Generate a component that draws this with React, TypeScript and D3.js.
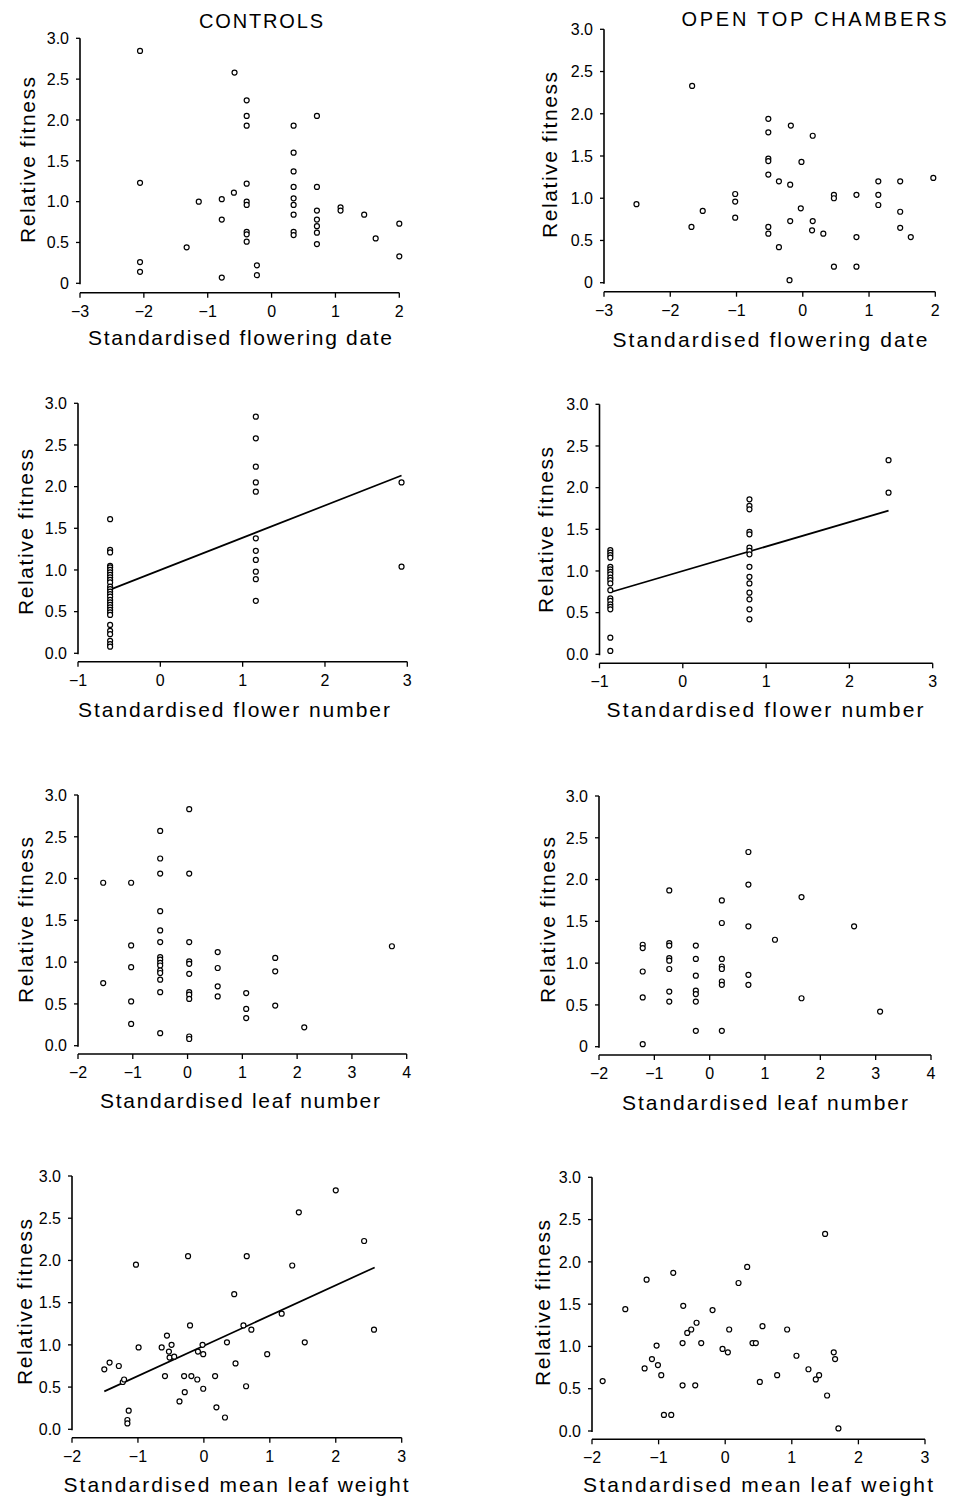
import * as d3 from "d3";
import React from "react";

type Pt = [number, number];

// ---- data (x = standardised trait, y = relative fitness) ----
const ctlFloweringDate: Pt[] = [
  [-2.06, 2.845], [-2.06, 1.23], [-2.06, 0.26], [-2.06, 0.14], [-1.33, 0.44], [-1.14, 1.0],
  [-0.78, 1.03], [-0.78, 0.78], [-0.78, 0.07], [-0.59, 1.11], [-0.58, 2.58],
  [-0.39, 2.24], [-0.39, 2.05], [-0.39, 1.93], [-0.39, 1.22], [-0.39, 1.0], [-0.39, 0.96],
  [-0.39, 0.63], [-0.39, 0.6], [-0.39, 0.51], [-0.23, 0.22], [-0.23, 0.1],
  [0.345, 1.93], [0.345, 1.6], [0.345, 1.37], [0.345, 1.18], [0.345, 1.04], [0.345, 0.96],
  [0.345, 0.84], [0.345, 0.63], [0.345, 0.59], [0.71, 2.05], [0.71, 1.18], [0.71, 0.89],
  [0.71, 0.78], [0.71, 0.7], [0.71, 0.62], [0.71, 0.48], [1.08, 0.93], [1.08, 0.89],
  [1.45, 0.84], [1.63, 0.55], [2.0, 0.73], [2.0, 0.33],
];

const otcFloweringDate: Pt[] = [
  [-2.51, 0.93], [-1.67, 2.33], [-1.68, 0.66], [-1.51, 0.85], [-1.02, 1.05], [-1.02, 0.96],
  [-1.02, 0.77], [-0.52, 1.94], [-0.52, 1.78], [-0.52, 1.47], [-0.52, 1.44], [-0.52, 1.28],
  [-0.52, 0.66], [-0.52, 0.58], [-0.36, 1.2], [-0.36, 0.42], [-0.18, 1.86], [-0.19, 1.16],
  [-0.19, 0.73], [-0.2, 0.03], [-0.02, 1.43], [-0.03, 0.88], [0.15, 1.74], [0.15, 0.73],
  [0.14, 0.62], [0.31, 0.58], [0.47, 1.04], [0.47, 1.0], [0.47, 0.19], [0.81, 1.04],
  [0.81, 0.54], [0.81, 0.19], [1.14, 1.2], [1.14, 1.04], [1.14, 0.92], [1.47, 1.2],
  [1.47, 0.84], [1.47, 0.65], [1.63, 0.54], [1.97, 1.24],
];

const ctlFlowerNumber: Pt[] = [
  [-0.61, 1.61], [-0.61, 1.24], [-0.61, 1.21], [-0.61, 1.05], [-0.61, 1.03], [-0.61, 1.0],
  [-0.61, 0.97], [-0.61, 0.94], [-0.61, 0.91], [-0.61, 0.88], [-0.61, 0.85], [-0.61, 0.8],
  [-0.61, 0.77], [-0.61, 0.74], [-0.61, 0.71], [-0.61, 0.68], [-0.61, 0.64], [-0.61, 0.61],
  [-0.61, 0.58], [-0.61, 0.55], [-0.61, 0.52], [-0.61, 0.49], [-0.61, 0.46], [-0.61, 0.34],
  [-0.61, 0.27], [-0.61, 0.23], [-0.61, 0.15], [-0.61, 0.11], [-0.61, 0.08],
  [1.16, 2.84], [1.16, 2.58], [1.16, 2.24], [1.16, 2.05], [1.16, 1.94], [1.16, 1.38],
  [1.16, 1.23], [1.16, 1.12], [1.16, 0.98], [1.16, 0.89], [1.16, 0.63],
  [2.93, 2.05], [2.93, 1.04],
];

const otcFlowerNumber: Pt[] = [
  [-0.87, 1.25], [-0.87, 1.22], [-0.87, 1.19], [-0.87, 1.16], [-0.87, 1.05], [-0.87, 1.02],
  [-0.87, 0.99], [-0.87, 0.96], [-0.87, 0.92], [-0.87, 0.89], [-0.87, 0.85], [-0.87, 0.77],
  [-0.87, 0.67], [-0.87, 0.64], [-0.87, 0.6], [-0.87, 0.57], [-0.87, 0.54], [-0.87, 0.2],
  [-0.87, 0.04],
  [0.8, 1.86], [0.8, 1.78], [0.8, 1.74], [0.8, 1.47], [0.8, 1.44], [0.8, 1.28], [0.8, 1.24],
  [0.8, 1.2], [0.8, 1.05], [0.8, 0.93], [0.8, 0.85], [0.8, 0.74], [0.8, 0.66], [0.8, 0.54],
  [0.8, 0.42],
  [2.47, 2.33], [2.47, 1.94],
];

const ctlLeafNumber: Pt[] = [
  [-1.54, 1.95], [-1.54, 0.75], [-1.03, 1.95], [-1.03, 1.2], [-1.03, 0.94], [-1.03, 0.53],
  [-1.03, 0.26], [-0.5, 2.57], [-0.5, 2.24], [-0.5, 2.06], [-0.5, 1.61], [-0.5, 1.38],
  [-0.5, 1.24], [-0.5, 1.06], [-0.5, 1.03], [-0.5, 0.99], [-0.5, 0.96], [-0.5, 0.9],
  [-0.5, 0.87], [-0.5, 0.79], [-0.5, 0.64], [-0.5, 0.15], [0.03, 2.83], [0.03, 2.06],
  [0.03, 1.24], [0.03, 1.01], [0.03, 0.98], [0.03, 0.86], [0.03, 0.64], [0.03, 0.61],
  [0.03, 0.56], [0.03, 0.11], [0.03, 0.08], [0.55, 1.12], [0.55, 0.93], [0.55, 0.71],
  [0.55, 0.59], [1.07, 0.63], [1.07, 0.44], [1.07, 0.33], [1.6, 1.05], [1.6, 0.89],
  [1.6, 0.48], [2.13, 0.22], [3.73, 1.19],
];

const otcLeafNumber: Pt[] = [
  [-1.21, 1.22], [-1.21, 1.18], [-1.21, 0.9], [-1.21, 0.59], [-1.21, 0.03],
  [-0.73, 1.87], [-0.73, 1.24], [-0.73, 1.21], [-0.73, 1.06], [-0.73, 1.03], [-0.73, 0.93],
  [-0.73, 0.66], [-0.73, 0.54], [-0.25, 1.21], [-0.25, 1.05], [-0.25, 0.85], [-0.25, 0.67],
  [-0.25, 0.63], [-0.25, 0.54], [-0.25, 0.19], [0.22, 1.75], [0.22, 1.48], [0.22, 1.05],
  [0.22, 0.96], [0.22, 0.93], [0.22, 0.78], [0.22, 0.74], [0.22, 0.19], [0.7, 2.33],
  [0.7, 1.94], [0.7, 1.44], [0.7, 0.86], [0.7, 0.74], [1.18, 1.28], [1.66, 1.79],
  [1.66, 0.58], [2.61, 1.44], [3.08, 0.42],
];

const ctlLeafWeight: Pt[] = [
  [-1.51, 0.71], [-1.43, 0.79], [-1.29, 0.75], [-1.23, 0.56], [-1.21, 0.59], [-1.14, 0.22],
  [-1.16, 0.11], [-1.16, 0.07], [-1.03, 1.95], [-0.99, 0.97], [-0.64, 0.97], [-0.59, 0.63],
  [-0.56, 1.11], [-0.53, 0.92], [-0.52, 0.85], [-0.49, 1.0], [-0.45, 0.86], [-0.37, 0.33],
  [-0.3, 0.63], [-0.29, 0.44], [-0.24, 2.05], [-0.21, 1.23], [-0.19, 0.63], [-0.1, 0.59],
  [-0.09, 0.92], [-0.02, 1.0], [-0.01, 0.89], [-0.01, 0.48], [0.17, 0.63], [0.19, 0.26],
  [0.32, 0.14], [0.35, 1.03], [0.46, 1.6], [0.48, 0.78], [0.6, 1.23], [0.64, 0.51],
  [0.65, 2.05], [0.72, 1.18], [0.96, 0.89], [1.18, 1.37], [1.34, 1.94], [1.44, 2.57],
  [1.53, 1.03], [2.0, 2.83], [2.43, 2.23], [2.58, 1.18],
];

const otcLeafWeight: Pt[] = [
  [-1.84, 0.59], [-1.5, 1.44], [-1.21, 0.74], [-1.18, 1.79], [-1.1, 0.85], [-1.03, 1.01],
  [-1.01, 0.78], [-0.96, 0.66], [-0.92, 0.19], [-0.81, 0.19], [-0.78, 1.87], [-0.64, 0.54],
  [-0.64, 1.04], [-0.63, 1.48], [-0.57, 1.16], [-0.51, 1.2], [-0.45, 0.54], [-0.43, 1.28],
  [-0.36, 1.04], [-0.19, 1.43], [-0.04, 0.97], [0.04, 0.93], [0.06, 1.2], [0.2, 1.75],
  [0.33, 1.94], [0.41, 1.04], [0.46, 1.04], [0.52, 0.58], [0.56, 1.24], [0.78, 0.66],
  [0.93, 1.2], [1.07, 0.89], [1.25, 0.73], [1.36, 0.61], [1.41, 0.66], [1.5, 2.33],
  [1.53, 0.42], [1.63, 0.93], [1.65, 0.85], [1.7, 0.03],
];

// fitted selection gradients: [x start, x end, intercept, slope]
const ctlFlowerNumberFit = [-0.61, 2.93, 1.0, 0.387];
const otcFlowerNumberFit = [-0.87, 2.47, 1.0, 0.293];
const ctlLeafWeightFit = [-1.51, 2.59, 0.99, 0.358];

const fitnessTicks = [0, 0.5, 1, 1.5, 2, 2.5, 3];
const dateTicks = [-3, -2, -1, 0, 1, 2];
const flowerTicks = [-1, 0, 1, 2, 3];
const leafNumTicks = [-2, -1, 0, 1, 2, 3, 4];
const leafWtTicks = [-2, -1, 0, 1, 2, 3];

const FONT = "'Liberation Sans', Arial, Helvetica, sans-serif";

interface Spec {
  pts: Pt[];
  fit?: number[];
  xTicks: number[];
  zeroLabel: string;
  xLabel: string;
  left: number;
  right: number;
  y3: number;
  y0: number;
  axisY: number;
  yLab: [number, number];
  xLab: [number, number, number];
}

const fmtX = (d: number) => (d < 0 ? "\u2212" + Math.abs(d) : String(d));

function Panel({ s }: { s: Spec }) {
  const xs = d3
    .scaleLinear()
    .domain([s.xTicks[0], s.xTicks[s.xTicks.length - 1]])
    .range([s.left, s.right]);
  const ys = d3.scaleLinear().domain([0, 3]).range([s.y0, s.y3]);
  const line = d3
    .line<number>()
    .x((d) => xs(d))
    .y((d) => ys(s.fit![2] + s.fit![3] * d));

  return (
    <g fontFamily={FONT} fill="#000">
      {/* y axis */}
      <line x1={s.left} x2={s.left} y1={ys(3)} y2={ys(0) + 1} stroke="#000" strokeWidth={1.6} />
      {fitnessTicks.map((t) => (
        <g key={"y" + t}>
          <line x1={s.left - 4} x2={s.left} y1={ys(t)} y2={ys(t)} stroke="#000" strokeWidth={1.3} />
          <text x={s.left - 11} y={ys(t)} dy="0.36em" textAnchor="end" fontSize={16}>
            {t === 0 ? s.zeroLabel : t.toFixed(1)}
          </text>
        </g>
      ))}
      {/* x axis */}
      <line x1={s.left} x2={s.right} y1={s.axisY} y2={s.axisY} stroke="#000" strokeWidth={1.6} />
      {s.xTicks.map((t) => (
        <g key={"x" + t}>
          <line x1={xs(t)} x2={xs(t)} y1={s.axisY} y2={s.axisY + 5} stroke="#000" strokeWidth={1.3} />
          <text x={xs(t)} y={s.axisY + 24} textAnchor="middle" fontSize={16}>
            {fmtX(t)}
          </text>
        </g>
      ))}
      {/* labels */}
      <text
        transform={`translate(${s.yLab[0]},${s.yLab[1]}) rotate(-90)`}
        textAnchor="middle"
        fontSize={21}
        textLength={166}
        lengthAdjust="spacing"
      >
        Relative fitness
      </text>
      <text
        x={s.xLab[0]}
        y={s.xLab[1]}
        textAnchor="middle"
        fontSize={21}
        textLength={s.xLab[2]}
        lengthAdjust="spacing"
      >
        {s.xLabel}
      </text>
      {/* regression line */}
      {s.fit && (
        <path d={line([s.fit[0], s.fit[1]]) ?? ""} fill="none" stroke="#000" strokeWidth={1.7} />
      )}
      {/* points */}
      {s.pts.map((p, i) => (
        <circle key={i} cx={xs(p[0])} cy={ys(p[1])} r={2.5} fill="white" stroke="#000" strokeWidth={1.2} />
      ))}
    </g>
  );
}

const panels: Spec[] = [
  {
    pts: ctlFloweringDate, xTicks: dateTicks, zeroLabel: "0", xLabel: "Standardised flowering date",
    left: 80, right: 399.3, y3: 38.3, y0: 283.3, axisY: 292.7, yLab: [35, 160], xLab: [240, 345, 304],
  },
  {
    pts: otcFloweringDate, xTicks: dateTicks, zeroLabel: "0", xLabel: "Standardised flowering date",
    left: 604, right: 935.3, y3: 29.3, y0: 282.7, axisY: 291.7, yLab: [557, 155], xLab: [770, 347, 315],
  },
  {
    pts: ctlFlowerNumber, fit: ctlFlowerNumberFit, xTicks: flowerTicks, zeroLabel: "0.0",
    xLabel: "Standardised flower number",
    left: 78, right: 407.3, y3: 403.3, y0: 653.3, axisY: 661.7, yLab: [33, 532], xLab: [234, 717, 312],
  },
  {
    pts: otcFlowerNumber, fit: otcFlowerNumberFit, xTicks: flowerTicks, zeroLabel: "0.0",
    xLabel: "Standardised flower number",
    left: 599.5, right: 932.7, y3: 404.3, y0: 654.3, axisY: 663.3, yLab: [553, 530], xLab: [765, 717, 317],
  },
  {
    pts: ctlLeafNumber, xTicks: leafNumTicks, zeroLabel: "0.0", xLabel: "Standardised leaf number",
    left: 78, right: 406.7, y3: 795, y0: 1045.7, axisY: 1054, yLab: [33, 920], xLab: [240, 1108, 280],
  },
  {
    pts: otcLeafNumber, xTicks: leafNumTicks, zeroLabel: "0", xLabel: "Standardised leaf number",
    left: 599, right: 931, y3: 796, y0: 1046.7, axisY: 1055, yLab: [555, 920], xLab: [765, 1110, 286],
  },
  {
    pts: ctlLeafWeight, fit: ctlLeafWeightFit, xTicks: leafWtTicks, zeroLabel: "0.0",
    xLabel: "Standardised mean leaf weight",
    left: 72, right: 401.7, y3: 1176, y0: 1429.3, axisY: 1437.7, yLab: [32, 1302], xLab: [236, 1492, 345],
  },
  {
    pts: otcLeafWeight, xTicks: leafWtTicks, zeroLabel: "0.0", xLabel: "Standardised mean leaf weight",
    left: 592, right: 925, y3: 1177.3, y0: 1431, axisY: 1439.3, yLab: [550, 1303], xLab: [758, 1492, 350],
  },
];

export default function App() {
  return (
    <svg
      width={961}
      height={1499}
      style={{ position: "absolute", left: 0, top: 0, background: "white" }}
    >
      <text x={261} y={28} textAnchor="middle" fontFamily={FONT} fontSize={20} textLength={124} lengthAdjust="spacing">
        CONTROLS
      </text>
      <text x={814} y={26} textAnchor="middle" fontFamily={FONT} fontSize={20} textLength={265} lengthAdjust="spacing">
        OPEN TOP CHAMBERS
      </text>
      {panels.map((s, i) => (
        <Panel key={i} s={s} />
      ))}
    </svg>
  );
}
